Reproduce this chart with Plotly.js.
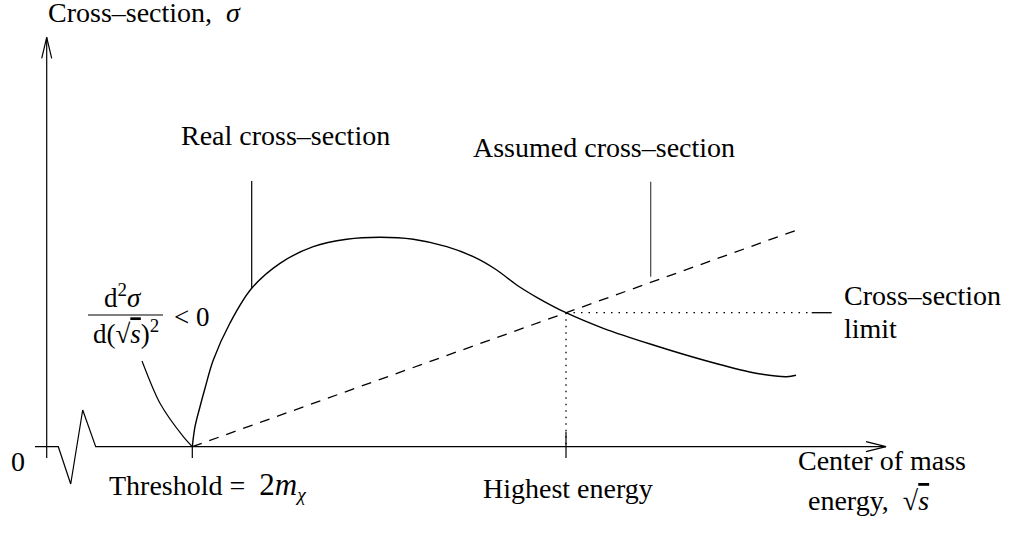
<!DOCTYPE html>
<html>
<head>
<meta charset="utf-8">
<script src="https://cdn.plot.ly/plotly-3.0.1.min.js"></script>
<style>html,body{margin:0;padding:0;background:#fff;}#chart{width:1013px;height:535px;}</style>
</head>
<body>
<div id="chart"></div>
<script>
// Schematic values in arbitrary units (x: centre-of-mass energy, y: cross-section)
const thresholdX = 14.56;
const highestX = 51.93;
const limitY = 13.4;

// Real cross-section curve
const realX = [14.56, 14.83, 15.33, 15.83, 16.66, 18.33, 20.5, 23.33, 26.66, 30.0, 33.33, 36.66, 40.0, 42.66, 45.0, 47.0, 49.0, 51.93, 55.66, 60.66, 65.66, 70.66, 74.0, 74.93];
const realY = [0, 2.0, 4.0, 5.84, 8.67, 12.37, 15.84, 18.34, 20.0, 20.74, 20.94, 20.74, 20.0, 19.0, 17.67, 16.17, 14.94, 13.4, 11.84, 10.17, 8.67, 7.4, 7.0, 7.14];

// Assumed (linear) cross-section
const assumedX = [14.56, 74.83];
const assumedY = [0, 21.6];

// Cross-section limit (dotted) and its label tick
const limitX = [51.93, 76.1];
const limitTickX = [76.5, 78.5];

// Axes
const yAxisX = [0, 0];
const yAxisY = [-1.13, 40.94];
const yArrowX = [-0.5, 0, 0.5];
const yArrowY = [38.84, 40.94, 38.84];
const xAxisX = [-1.17, 1.16, 2.4, 3.6, 4.9, 83.93];
const xAxisY = [0, 0, -3.73, 3.67, 0, 0];
const xArrowX = [81.93, 83.93, 81.93];
const xArrowY = [0.5, 0, -0.5];

// Ticks
const tickLow = -1.13;
const highestTickTop = 1.5;

// Pointer lines
const realPointerX = [20.5, 20.5];
const realPointerY = [15.84, 26.57];
const assumedPointerX = [60.4, 60.4];
const assumedPointerY = [17.0, 26.5];
const fracPointerX = [9.53, 11.33, 13.66, 14.56];
const fracPointerY = [8.57, 4.34, 1.0, 0];

// Labels
const labels = {
  yTitle: 'Cross\u2013section,  <i>\u03c3</i>',
  real: 'Real cross\u2013section',
  assumed: 'Assumed cross\u2013section',
  threshold: 'Threshold =  <span style="font-size:31px">2<i>m</i></span><sub><i>\u03c7</i></sub>',
  highest: 'Highest energy',
  xTitle1: 'Center of mass',
  xTitle2: 'energy,  \u221a<span style="text-decoration:overline"><i>s</i></span>',
  limit1: 'Cross\u2013section',
  limit2: 'limit',
  zero: '0',
  num: 'd<sup>2</sup><i>\u03c3</i>',
  den: 'd(\u221a<span style="text-decoration:overline"><i>s</i></span>)<sup>2</sup>',
  lt: '&lt; 0'
};

const blk = '#000';
function line(x, y, extra) {
  return Object.assign({x: x, y: y, type: 'scatter', mode: 'lines', hoverinfo: 'skip',
    line: Object.assign({color: blk, width: 1.3}, extra || {})});
}

const traces = [
  line(yAxisX, yAxisY, {width: 1.2}),
  line(yArrowX, yArrowY, {width: 1.2}),
  line(xAxisX, xAxisY, {width: 1.2}),
  line(xArrowX, xArrowY, {width: 1.2}),
  line([thresholdX, thresholdX], [0, tickLow], {width: 1.2}),
  line([highestX, highestX], [highestTickTop, tickLow], {width: 1.2}),
  line([highestX, highestX], [limitY, 0], {width: 1.3, dash: '1.5px,5px'}),
  line(limitX, [limitY, limitY], {width: 1.3, dash: '1.5px,6px'}),
  line(limitTickX, [limitY, limitY], {width: 1.3}),
  line(assumedX, assumedY, {width: 1.3, dash: '10px,8px'}),
  line(realX, realY, {width: 1.4, shape: 'spline', smoothing: 1}),
  line(realPointerX, realPointerY, {width: 1.2}),
  line(assumedPointerX, assumedPointerY, {width: 1.2, color: '#444'}),
  line(fracPointerX, fracPointerY, {width: 1.2, shape: 'spline', smoothing: 0.8}),
  line([4.13, 11.63], [13.17, 13.17], {width: 1.2})
];

const F = {family: 'Liberation Serif, Times New Roman, serif', size: 28, color: blk};
const M = {family: 'Liberation Serif, Times New Roman, serif', size: 27, color: blk};
function ann(text, x, y, xanchor, font) {
  return {text: text, x: x, y: y, xref: 'x', yref: 'y', xanchor: xanchor, yanchor: 'middle',
    showarrow: false, font: font || F, borderpad: 0};
}

const annotations = [
  ann(labels.yTitle, 0.0, 43.40, 'left'),
  ann(labels.real, 13.33, 31.12, 'left'),
  ann(labels.assumed, 42.53, 29.92, 'left'),
  ann(labels.threshold, 6.13, -3.88, 'left'),
  ann(labels.highest, 43.53, -4.18, 'left'),
  ann(labels.xTitle1, 75.03, -1.38, 'left'),
  ann(labels.xTitle2, 76.03, -5.38, 'left'),
  ann(labels.limit1, 79.63, 15.12, 'left'),
  ann(labels.limit2, 79.63, 11.82, 'left'),
  ann(labels.zero, -2.92, -1.45, 'center'),
  ann(labels.num, 7.63, 15.12, 'center', M),
  ann(labels.den, 7.88, 11.47, 'center', M),
  ann(labels.lt, 12.63, 13.0, 'left', M)
];

const layout = {
  width: 1013, height: 535,
  margin: {l: 0, r: 0, t: 0, b: 0},
  paper_bgcolor: '#fff', plot_bgcolor: '#fff',
  showlegend: false,
  xaxis: {range: [-4.67, 96.63], visible: false, fixedrange: true},
  yaxis: {range: [-8.83, 44.67], visible: false, fixedrange: true},
  annotations: annotations
};

Plotly.newPlot('chart', traces, layout, {staticPlot: true, displayModeBar: false});
</script>
</body>
</html>
